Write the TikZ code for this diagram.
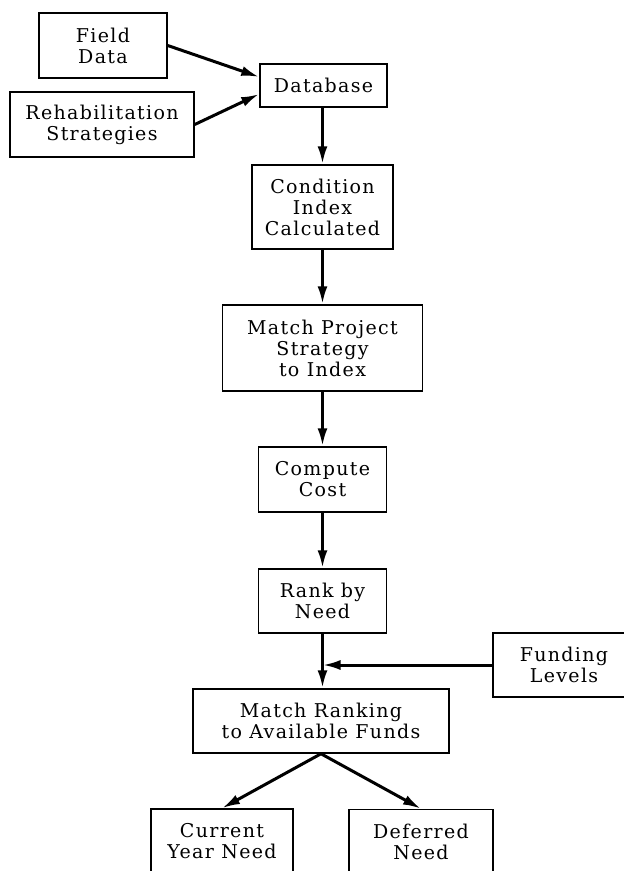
\documentclass[tikz,border=0pt]{standalone}
\usepackage{fontspec}
\setmainfont{DejaVu Serif}[LetterSpace=7]
\usetikzlibrary{arrows.meta}
\begin{document}
\begin{tikzpicture}[x=1pt,y=-1pt,
  box/.style={draw, line width=1.5pt, rectangle, inner sep=0pt, align=center,
    font=\fontsize{19}{21}\selectfont},
  flow/.style={line width=3pt, -{Latex[length=18pt,width=10pt]}}
]
\useasboundingbox (0,0) rectangle (624,871);
\clip (0,0) rectangle (624,871);

% boxes, placed by centre with fixed sizes
\node[box, minimum width=128pt, minimum height=65pt] (field) at (103,45.5) {Field\\Data};
\node[box, minimum width=184pt, minimum height=65pt] (rehab) at (102,124.5) {Rehabilitation\\Strategies};
\node[box, minimum width=127pt, minimum height=43pt] (db) at (323.5,85.5) {Database};
\node[box, minimum width=141pt, minimum height=84pt] (cond) at (322.5,207) {Condition\\Index\\Calculated};
\node[box, minimum width=200pt, minimum height=86pt] (proj) at (322.5,348) {Match Project\\Strategy\\to Index};
\node[box, minimum width=128pt, minimum height=65pt] (cost) at (322.5,479.5) {Compute\\Cost};
\node[box, minimum width=128pt, minimum height=64pt] (rank) at (322.5,601) {Rank by\\Need};
\node[box, minimum width=142pt, minimum height=64pt] (fund) at (564,665) {Funding\\Levels};
\node[box, minimum width=256pt, minimum height=64pt] (match) at (321,721) {Match Ranking\\to Available Funds};
\node[box, minimum width=142pt, minimum height=65pt] (cur) at (222,841.5) {Current\\Year Need};
\node[box, minimum width=144pt, minimum height=65pt] (def) at (421,842) {Deferred\\Need};

% junction where the funding line meets the main flow
\coordinate (join) at (rank.south |- fund.west);

% connectors (yshift works on the page, where up is positive)
\draw[flow] (field.east) -- ([yshift=8.5pt]db.west);
\draw[flow] (rehab.east) -- ([yshift=-8.5pt]db.west);
\draw[flow] (db.south -| cond.north) -- (cond.north);
\draw[flow] (cond.south) -- (cond.south |- proj.north);
\draw[flow] (proj.south) -- (proj.south |- cost.north);
\draw[flow] (cost.south) -- (cost.south |- rank.north);
\draw[flow] (rank.south) -- (rank.south |- match.north);
\draw[flow] (fund.west) -- (join);
\draw[flow] (match.south) -- (cur.north);
\draw[flow] (match.south) -- (def.north);
\end{tikzpicture}
\end{document}
